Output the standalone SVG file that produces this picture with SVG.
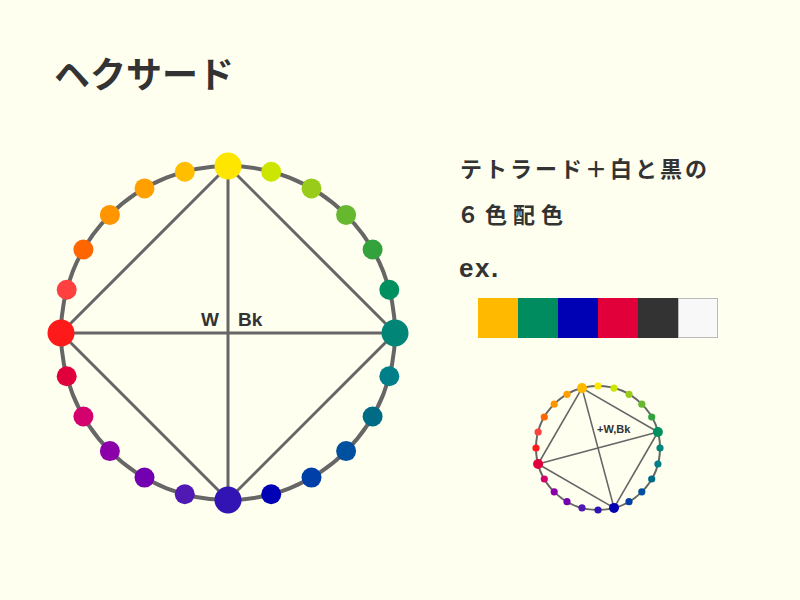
<svg xmlns="http://www.w3.org/2000/svg" width="800" height="600" viewBox="0 0 800 600">
<style>
.t{font-family:"Noto Sans CJK JP","Noto Sans",sans-serif;font-weight:bold;fill:#333}
.l{font-family:"Liberation Sans",Arial,sans-serif;font-weight:bold;fill:#333}
.ring{fill:none;stroke:#666}
.ln{stroke:#666;fill:none}
</style>
<rect width="800" height="600" fill="#FFFFF0"/>
<text class="t" x="54" y="88" font-size="36">ヘクサード</text>
<g id="heading">
<text class="t" x="460" y="177" font-size="22" letter-spacing="3">テトラード＋白と黒の</text>
<text class="t" x="457" y="223" font-size="22" letter-spacing="6">６色配色</text>
<text class="l" x="459" y="277" font-size="26" letter-spacing="1.5">ex.</text>
</g>
<g id="swatches">
<rect x="478" y="298" width="40" height="40" fill="#FFBA00"/>
<rect x="518" y="298" width="40" height="40" fill="#008C5F"/>
<rect x="558" y="298" width="40" height="40" fill="#0000B4"/>
<rect x="598" y="298" width="40" height="40" fill="#E2003A"/>
<rect x="638" y="298" width="40" height="40" fill="#333333"/>
<rect x="678.5" y="298.5" width="39" height="39" fill="#F8F8F8" stroke="#BBBBBB" stroke-width="1"/>
</g>
<g id="big-wheel">
<circle class="ring" cx="228" cy="333" r="167" stroke-width="4"/>
<g id="big-connectors" class="ln" stroke-width="3">
<line x1="228" y1="166" x2="61" y2="333"/>
<line x1="228" y1="166" x2="395" y2="333"/>
<line x1="61" y1="333" x2="228" y2="500"/>
<line x1="395" y1="333" x2="228" y2="500"/>
<line x1="228" y1="166" x2="228" y2="500"/>
<line x1="61" y1="333" x2="395" y2="333"/>
</g>
<g id="big-dots">
<circle cx="228" cy="166" r="13.5" fill="#FFE600"/>
<circle cx="271.2" cy="171.7" r="10" fill="#CCE600"/>
<circle cx="311.5" cy="188.4" r="10" fill="#99CC1A"/>
<circle cx="346.1" cy="214.9" r="10" fill="#66B82E"/>
<circle cx="372.6" cy="249.5" r="10" fill="#33A23D"/>
<circle cx="389.3" cy="289.8" r="10" fill="#00905F"/>
<circle cx="395" cy="333" r="13.5" fill="#008577"/>
<circle cx="389.3" cy="376.2" r="10" fill="#007F88"/>
<circle cx="372.6" cy="416.5" r="10" fill="#006B85"/>
<circle cx="346.1" cy="451.1" r="10" fill="#0050A0"/>
<circle cx="311.5" cy="477.6" r="10" fill="#003FA8"/>
<circle cx="271.2" cy="494.3" r="10" fill="#0000B4"/>
<circle cx="228" cy="500" r="13.5" fill="#3214B4"/>
<circle cx="184.8" cy="494.3" r="10" fill="#5019B4"/>
<circle cx="144.5" cy="477.6" r="10" fill="#7300B0"/>
<circle cx="109.9" cy="451.1" r="10" fill="#8C00AA"/>
<circle cx="83.4" cy="416.5" r="10" fill="#D4006E"/>
<circle cx="66.7" cy="376.2" r="10" fill="#E0003C"/>
<circle cx="61" cy="333" r="13.5" fill="#FF1A1A"/>
<circle cx="66.7" cy="289.8" r="10" fill="#FF4040"/>
<circle cx="83.4" cy="249.5" r="10" fill="#FF6600"/>
<circle cx="109.9" cy="214.9" r="10" fill="#FF9500"/>
<circle cx="144.5" cy="188.4" r="10" fill="#FFA000"/>
<circle cx="184.8" cy="171.7" r="10" fill="#FFBE00"/>
</g>
<text class="l" x="201" y="326" font-size="19">W</text>
<text class="l" x="238" y="326" font-size="19">Bk</text>
</g>
<g id="small-wheel">
<circle class="ring" cx="598" cy="448" r="62" stroke-width="2"/>
<g id="small-connectors" class="ln" stroke-width="1.6">
<line x1="582" y1="388.1" x2="657.9" y2="432"/>
<line x1="582" y1="388.1" x2="538.1" y2="464"/>
<line x1="582" y1="388.1" x2="614" y2="507.9"/>
<line x1="657.9" y1="432" x2="538.1" y2="464"/>
<line x1="657.9" y1="432" x2="614" y2="507.9"/>
<line x1="538.1" y1="464" x2="614" y2="507.9"/>
</g>
<g id="small-dots">
<circle cx="598" cy="386" r="3.6" fill="#FFE600"/>
<circle cx="614" cy="388.1" r="3.6" fill="#CCE600"/>
<circle cx="629" cy="394.3" r="3.6" fill="#99CC1A"/>
<circle cx="641.8" cy="404.2" r="3.6" fill="#66B82E"/>
<circle cx="651.7" cy="417" r="3.6" fill="#33A23D"/>
<circle cx="657.9" cy="432" r="5" fill="#00905F"/>
<circle cx="660" cy="448" r="3.6" fill="#008577"/>
<circle cx="657.9" cy="464" r="3.6" fill="#007F88"/>
<circle cx="651.7" cy="479" r="3.6" fill="#006B85"/>
<circle cx="641.8" cy="491.8" r="3.6" fill="#0050A0"/>
<circle cx="629" cy="501.7" r="3.6" fill="#003FA8"/>
<circle cx="614" cy="507.9" r="5" fill="#0000B4"/>
<circle cx="598" cy="510" r="3.6" fill="#3214B4"/>
<circle cx="582" cy="507.9" r="3.6" fill="#5019B4"/>
<circle cx="567" cy="501.7" r="3.6" fill="#7300B0"/>
<circle cx="554.2" cy="491.8" r="3.6" fill="#8C00AA"/>
<circle cx="544.3" cy="479" r="3.6" fill="#D4006E"/>
<circle cx="538.1" cy="464" r="5" fill="#E0003C"/>
<circle cx="536" cy="448" r="3.6" fill="#FF1A1A"/>
<circle cx="538.1" cy="432" r="3.6" fill="#FF4040"/>
<circle cx="544.3" cy="417" r="3.6" fill="#FF6600"/>
<circle cx="554.2" cy="404.2" r="3.6" fill="#FF9500"/>
<circle cx="567" cy="394.3" r="3.6" fill="#FFA000"/>
<circle cx="582" cy="388.1" r="5" fill="#FFBA00"/>
</g>
<text class="l" x="597" y="433" font-size="11">+W,Bk</text>
</g>
</svg>
